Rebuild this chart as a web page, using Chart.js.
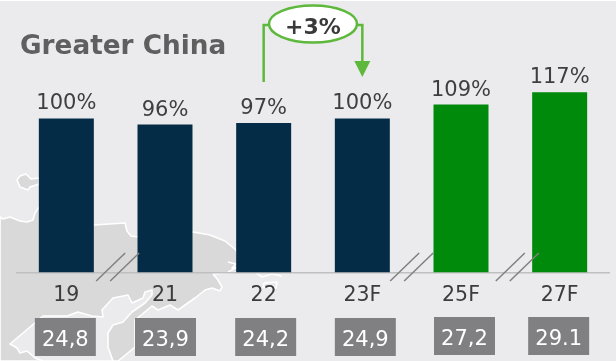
<!DOCTYPE html>
<html>
<head>
<meta charset="utf-8">
<style>
  html, body { margin: 0; padding: 0; background: #fff; }
  canvas { display: block; }
</style>
<script src="https://cdn.jsdelivr.net/npm/chart.js@4"></script>
</head>
<body>
<canvas id="chart" width="616" height="361"></canvas>
<script>
const categories = ['19', '21', '22', '23F', '25F', '27F'];
const indexValues = [100, 96, 97, 100, 109, 117];
const totals = ['24,8', '23,9', '24,2', '24,9', '27,2', '29.1'];
const growthLabel = '+3%';
const chartTitle = 'Greater China';

const NAVY = '#052C46', GREEN = '#008A0B', ACCENT = '#5DB83B';
const barColors = [NAVY, NAVY, NAVY, NAVY, GREEN, GREEN];
const FONT = '"DejaVu Sans", Verdana, sans-serif';

// Horizontal nudges of the grey total boxes and the axis-break marks
const boxShift = [-1, 0.5, 2, 3, 3.5, -1];
const boxTop = [318, 318, 318, 318, 317, 317];
const breakAfter = [[0, 2], [3, 0], [4, 7]];

// Backdrop map outlines
const land = [[0,217],[3,219],[10,217],[20,221],[27,222],[33,220],[35,213],[39,207],[60,205],[94,225],[125,223],[127,231],[131,236],[138,237],[193,232],[210,235],[225,241],[236,250],[242,268],[236,272],[226,273],[213,274],[218,280],[222,287],[220,291],[212,288],[205,290],[195,298],[178,310],[170,305],[158,310],[152,306],[146,311],[140,316],[135,320],[135,347],[123,357],[118,361],[0,361]];
const gulf = [[152,290],[145,292],[143,298],[132,303],[128,295],[113,298],[102,310],[103,317],[92,316],[78,312],[67,316],[43,316],[10,344],[17,348],[20,353],[27,351],[35,358],[43,361],[113,361],[108,347],[108,333],[113,325],[123,322],[132,312],[145,303],[152,295]];
const isle = [[17,180],[20,176],[26,174],[31,179],[39,178],[39,184],[30,187],[28,190],[20,187]];
const islets = [
  [[228,262],[236,264],[232,268],[238,267],[228,272]],
  [[255,272],[262,277],[272,274],[282,276]],
  [[264,283],[277,282],[276,288],[263,287],[264,283]]
];

function tracePath(ctx, pts, close) {
  ctx.beginPath();
  pts.forEach((p, i) => i ? ctx.lineTo(p[0], p[1]) : ctx.moveTo(p[0], p[1]));
  if (close) ctx.closePath();
}

const backdrop = {
  id: 'backdrop',
  beforeDraw(chart) {
    const ctx = chart.ctx;
    ctx.save();
    ctx.fillStyle = '#EBEBEE';
    ctx.fillRect(0, 1, chart.width, chart.height - 1);
    ctx.lineJoin = 'round';
    ctx.strokeStyle = '#FFFFFF';
    ctx.lineWidth = 1.6;
    ctx.fillStyle = '#D9D9D9';
    tracePath(ctx, land, true); ctx.fill(); ctx.stroke();
    ctx.fillStyle = '#EBEBEE';
    tracePath(ctx, gulf, true); ctx.fill(); ctx.stroke();
    ctx.fillStyle = '#D9D9D9';
    tracePath(ctx, isle, true); ctx.fill(); ctx.stroke();
    islets.forEach(p => { tracePath(ctx, p, false); ctx.stroke(); });
    ctx.fillStyle = '#5F5F5F';
    ctx.font = 'bold 26.3px ' + FONT;
    ctx.textAlign = 'left';
    ctx.textBaseline = 'alphabetic';
    ctx.fillText(chartTitle, 20, 54);
    ctx.restore();
  }
};

const annotations = {
  id: 'annotations',
  afterDatasetsDraw(chart) {
    const ctx = chart.ctx, xs = chart.scales.x;
    const bars = chart.getDatasetMeta(0).data;
    ctx.save();
    ctx.textAlign = 'center';
    ctx.textBaseline = 'alphabetic';

    // Percentage above each bar
    ctx.fillStyle = '#3F3F3F';
    ctx.font = '21px ' + FONT;
    bars.forEach((b, i) => ctx.fillText(indexValues[i] + '%', b.x, b.y - 9));

    // Grey boxes holding the absolute totals
    bars.forEach((b, i) => {
      const cx = xs.getPixelForValue(i) + boxShift[i];
      ctx.fillStyle = '#808083';
      ctx.fillRect(cx - 30.5, boxTop[i], 61, 38);
      ctx.fillStyle = '#FFFFFF';
      ctx.font = '21px ' + FONT;
      ctx.fillText(totals[i], cx, boxTop[i] + 27.5);
    });

    // Double-slash axis breaks
    const base = chart.scales.y.getPixelForValue(0);
    ctx.strokeStyle = '#808080';
    ctx.lineWidth = 1.5;
    breakAfter.forEach(([i, nudge]) => {
      const mid = (xs.getPixelForValue(i) + xs.getPixelForValue(i + 1)) / 2 + nudge;
      [-7, 7].forEach(dx => {
        ctx.beginPath();
        ctx.moveTo(mid + dx - 14.5, base + 8.5);
        ctx.lineTo(mid + dx + 14.5, base - 19.5);
        ctx.stroke();
      });
    });

    // Growth bracket from 22 to 23F with its oval label
    const x0 = xs.getPixelForValue(2), x1 = xs.getPixelForValue(3);
    const cx = 313, cy = 24;
    ctx.strokeStyle = ACCENT;
    ctx.lineWidth = 2.5;
    ctx.beginPath();
    ctx.moveTo(x0, 82); ctx.lineTo(x0, 25); ctx.lineTo(cx - 44, 25);
    ctx.moveTo(cx + 44, 25); ctx.lineTo(x1, 25); ctx.lineTo(x1, 63);
    ctx.stroke();
    ctx.fillStyle = ACCENT;
    ctx.beginPath();
    ctx.moveTo(x1 - 8, 61); ctx.lineTo(x1 + 8, 61); ctx.lineTo(x1, 77);
    ctx.closePath(); ctx.fill();
    ctx.fillStyle = '#FFFFFF';
    ctx.beginPath();
    ctx.ellipse(cx, cy, 44, 18.5, 0, 0, Math.PI * 2);
    ctx.fill(); ctx.stroke();
    ctx.fillStyle = '#3A3A3A';
    ctx.font = 'bold 22px ' + FONT;
    ctx.fillText(growthLabel, cx, cy + 10);
    ctx.restore();
  }
};

new Chart(document.getElementById('chart'), {
  type: 'bar',
  data: {
    labels: categories,
    datasets: [{
      data: indexValues,
      backgroundColor: barColors,
      borderWidth: 0,
      categoryPercentage: 1,
      barPercentage: 55 / 98.67
    }]
  },
  plugins: [backdrop, annotations],
  options: {
    responsive: false,
    animation: false,
    layout: { padding: { left: 17, right: 7, top: 0, bottom: 0 } },
    plugins: { legend: { display: false }, tooltip: { enabled: false } },
    scales: {
      y: { display: false, min: 0, max: 176.9 },
      x: {
        afterFit(scale) { scale.height = 88.5; },
        grid: { display: false, drawTicks: false },
        border: { display: true, color: '#BFBFBF', width: 1.5 },
        ticks: {
          color: '#3C3C3C',
          font: { family: FONT, size: 20.5 },
          padding: 10.5,
          maxRotation: 0
        }
      }
    }
  }
});
</script>
</body>
</html>
